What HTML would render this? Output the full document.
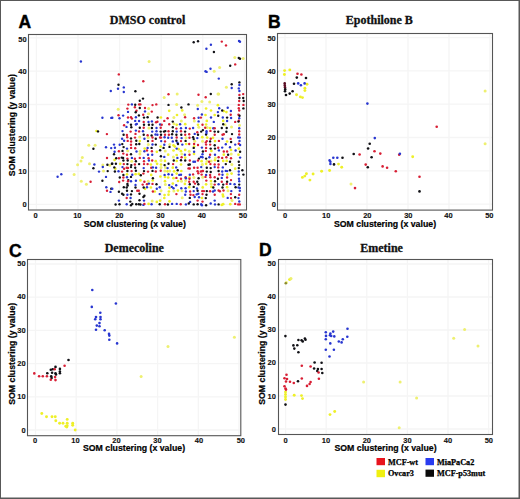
<!DOCTYPE html><html><head><meta charset="utf-8"><style>html,body{margin:0;padding:0;background:#fff;width:520px;height:499px;overflow:hidden}svg{display:block}</style></head><body><svg width="520" height="499" viewBox="0 0 520 499"><style>.t{font:bold 7.5px "Liberation Sans",sans-serif;fill:#111;stroke:#111;stroke-width:0.12px}.L{font:bold 17.5px "Liberation Sans",sans-serif;fill:#000;stroke:#000;stroke-width:0.4px}.T{font:bold 12px "Liberation Serif",serif;fill:#111;stroke:#111;stroke-width:0.3px}.X{font:bold 8.75px "Liberation Sans",sans-serif;fill:#000;stroke:#000;stroke-width:0.2px}.G{font:bold 8.2px "Liberation Serif",serif;fill:#000;stroke:#000;stroke-width:0.25px}</style><rect x="0" y="0" width="520" height="499" fill="#fff"/><line x1="36.4" y1="35.0" x2="36.4" y2="209.5" stroke="#f5f5f5" stroke-width="1.3"/><line x1="29.0" y1="204.4" x2="246.0" y2="204.4" stroke="#f5f5f5" stroke-width="1.3"/><line x1="78.0" y1="35.0" x2="78.0" y2="209.5" stroke="#f5f5f5" stroke-width="1.3"/><line x1="29.0" y1="171.1" x2="246.0" y2="171.1" stroke="#f5f5f5" stroke-width="1.3"/><line x1="119.6" y1="35.0" x2="119.6" y2="209.5" stroke="#f5f5f5" stroke-width="1.3"/><line x1="29.0" y1="137.8" x2="246.0" y2="137.8" stroke="#f5f5f5" stroke-width="1.3"/><line x1="161.2" y1="35.0" x2="161.2" y2="209.5" stroke="#f5f5f5" stroke-width="1.3"/><line x1="29.0" y1="104.5" x2="246.0" y2="104.5" stroke="#f5f5f5" stroke-width="1.3"/><line x1="202.8" y1="35.0" x2="202.8" y2="209.5" stroke="#f5f5f5" stroke-width="1.3"/><line x1="29.0" y1="71.2" x2="246.0" y2="71.2" stroke="#f5f5f5" stroke-width="1.3"/><line x1="244.4" y1="35.0" x2="244.4" y2="209.5" stroke="#f5f5f5" stroke-width="1.3"/><line x1="29.0" y1="37.9" x2="246.0" y2="37.9" stroke="#f5f5f5" stroke-width="1.3"/><line x1="285.0" y1="34.0" x2="285.0" y2="209.6" stroke="#f5f5f5" stroke-width="1.3"/><line x1="278.0" y1="204.1" x2="492.0" y2="204.1" stroke="#f5f5f5" stroke-width="1.3"/><line x1="326.0" y1="34.0" x2="326.0" y2="209.6" stroke="#f5f5f5" stroke-width="1.3"/><line x1="278.0" y1="170.8" x2="492.0" y2="170.8" stroke="#f5f5f5" stroke-width="1.3"/><line x1="367.0" y1="34.0" x2="367.0" y2="209.6" stroke="#f5f5f5" stroke-width="1.3"/><line x1="278.0" y1="137.5" x2="492.0" y2="137.5" stroke="#f5f5f5" stroke-width="1.3"/><line x1="408.0" y1="34.0" x2="408.0" y2="209.6" stroke="#f5f5f5" stroke-width="1.3"/><line x1="278.0" y1="104.2" x2="492.0" y2="104.2" stroke="#f5f5f5" stroke-width="1.3"/><line x1="449.0" y1="34.0" x2="449.0" y2="209.6" stroke="#f5f5f5" stroke-width="1.3"/><line x1="278.0" y1="70.9" x2="492.0" y2="70.9" stroke="#f5f5f5" stroke-width="1.3"/><line x1="490.0" y1="34.0" x2="490.0" y2="209.6" stroke="#f5f5f5" stroke-width="1.3"/><line x1="278.0" y1="37.6" x2="492.0" y2="37.6" stroke="#f5f5f5" stroke-width="1.3"/><line x1="35.5" y1="260.0" x2="35.5" y2="435.2" stroke="#f5f5f5" stroke-width="1.3"/><line x1="28.0" y1="430.0" x2="240.3" y2="430.0" stroke="#f5f5f5" stroke-width="1.3"/><line x1="76.2" y1="260.0" x2="76.2" y2="435.2" stroke="#f5f5f5" stroke-width="1.3"/><line x1="28.0" y1="396.8" x2="240.3" y2="396.8" stroke="#f5f5f5" stroke-width="1.3"/><line x1="116.9" y1="260.0" x2="116.9" y2="435.2" stroke="#f5f5f5" stroke-width="1.3"/><line x1="28.0" y1="363.6" x2="240.3" y2="363.6" stroke="#f5f5f5" stroke-width="1.3"/><line x1="157.6" y1="260.0" x2="157.6" y2="435.2" stroke="#f5f5f5" stroke-width="1.3"/><line x1="28.0" y1="330.4" x2="240.3" y2="330.4" stroke="#f5f5f5" stroke-width="1.3"/><line x1="198.3" y1="260.0" x2="198.3" y2="435.2" stroke="#f5f5f5" stroke-width="1.3"/><line x1="28.0" y1="297.2" x2="240.3" y2="297.2" stroke="#f5f5f5" stroke-width="1.3"/><line x1="239.0" y1="260.0" x2="239.0" y2="435.2" stroke="#f5f5f5" stroke-width="1.3"/><line x1="28.0" y1="264.0" x2="240.3" y2="264.0" stroke="#f5f5f5" stroke-width="1.3"/><line x1="285.6" y1="260.0" x2="285.6" y2="434.0" stroke="#f5f5f5" stroke-width="1.3"/><line x1="279.0" y1="429.0" x2="492.0" y2="429.0" stroke="#f5f5f5" stroke-width="1.3"/><line x1="326.2" y1="260.0" x2="326.2" y2="434.0" stroke="#f5f5f5" stroke-width="1.3"/><line x1="279.0" y1="396.0" x2="492.0" y2="396.0" stroke="#f5f5f5" stroke-width="1.3"/><line x1="366.8" y1="260.0" x2="366.8" y2="434.0" stroke="#f5f5f5" stroke-width="1.3"/><line x1="279.0" y1="363.0" x2="492.0" y2="363.0" stroke="#f5f5f5" stroke-width="1.3"/><line x1="407.4" y1="260.0" x2="407.4" y2="434.0" stroke="#f5f5f5" stroke-width="1.3"/><line x1="279.0" y1="330.0" x2="492.0" y2="330.0" stroke="#f5f5f5" stroke-width="1.3"/><line x1="448.0" y1="260.0" x2="448.0" y2="434.0" stroke="#f5f5f5" stroke-width="1.3"/><line x1="279.0" y1="297.0" x2="492.0" y2="297.0" stroke="#f5f5f5" stroke-width="1.3"/><line x1="488.6" y1="260.0" x2="488.6" y2="434.0" stroke="#f5f5f5" stroke-width="1.3"/><line x1="279.0" y1="264.0" x2="492.0" y2="264.0" stroke="#f5f5f5" stroke-width="1.3"/><g><circle cx="82.3" cy="157.5" r="1.5" fill="#eef070"/><circle cx="81.0" cy="161.0" r="1.5" fill="#eef070"/><circle cx="77.6" cy="164.8" r="1.5" fill="#eef070"/><circle cx="74.1" cy="174.5" r="1.5" fill="#eef070"/><circle cx="81.3" cy="181.2" r="1.5" fill="#eef070"/><circle cx="86.4" cy="184.3" r="1.5" fill="#eef070"/><circle cx="89.5" cy="163.8" r="1.5" fill="#eef070"/><circle cx="88.8" cy="145.3" r="1.5" fill="#eef070"/><circle cx="95.1" cy="145.3" r="1.5" fill="#eef070"/><circle cx="96.5" cy="131.0" r="1.3499999999999999" fill="#eef028"/><circle cx="102.8" cy="165.0" r="1.5" fill="#eef070"/><circle cx="109.8" cy="165.2" r="1.5" fill="#eef070"/><circle cx="103.5" cy="170.9" r="1.5" fill="#eef070"/><circle cx="149.1" cy="61.4" r="1.5" fill="#eef070"/><circle cx="164.2" cy="97.5" r="1.5" fill="#eef070"/><circle cx="177.2" cy="94.0" r="1.5" fill="#eef070"/><circle cx="226.4" cy="87.3" r="1.5" fill="#eef070"/><circle cx="218.7" cy="94.0" r="1.5" fill="#eef070"/><circle cx="219.6" cy="67.5" r="1.5" fill="#eef070"/><circle cx="214.2" cy="71.2" r="1.5" fill="#eef070"/><circle cx="234.8" cy="57.6" r="1.5" fill="#eef070"/><circle cx="243.2" cy="58.4" r="1.5" fill="#eef070"/><circle cx="218.0" cy="94.1" r="1.5" fill="#eef070"/><circle cx="118.2" cy="109.2" r="1.5" fill="#eef070"/><circle cx="176.7" cy="104.6" r="1.5" fill="#eef070"/><circle cx="148.6" cy="108.5" r="1.5" fill="#eef070"/><circle cx="177.0" cy="115.0" r="1.3499999999999999" fill="#eef028"/><circle cx="176.7" cy="124.8" r="1.3499999999999999" fill="#eef028"/><circle cx="201.9" cy="101.6" r="1.5" fill="#eef070"/><circle cx="209.7" cy="102.0" r="1.5" fill="#eef070"/><circle cx="197.6" cy="105.2" r="1.5" fill="#eef070"/><circle cx="206.1" cy="108.5" r="1.3499999999999999" fill="#eef028"/><circle cx="211.0" cy="110.5" r="1.3499999999999999" fill="#eef028"/><circle cx="184.6" cy="114.7" r="1.5" fill="#eef070"/><circle cx="205.5" cy="115.0" r="1.3499999999999999" fill="#eef028"/><circle cx="181.3" cy="120.9" r="1.5" fill="#eef070"/><circle cx="206.8" cy="120.9" r="1.3499999999999999" fill="#eef028"/><circle cx="185.2" cy="124.2" r="1.3499999999999999" fill="#eef028"/><circle cx="198.0" cy="124.8" r="1.3499999999999999" fill="#eef028"/><circle cx="206.1" cy="124.5" r="1.3499999999999999" fill="#eef028"/><circle cx="217.9" cy="105.2" r="1.3499999999999999" fill="#eef028"/><circle cx="223.8" cy="111.1" r="1.3499999999999999" fill="#eef028"/><circle cx="226.4" cy="112.1" r="1.3499999999999999" fill="#eef028"/><circle cx="214.7" cy="115.0" r="1.3499999999999999" fill="#eef028"/><circle cx="223.2" cy="120.9" r="1.3499999999999999" fill="#eef028"/><circle cx="225.1" cy="124.8" r="1.5" fill="#eef070"/><circle cx="239.5" cy="125.2" r="1.5" fill="#eef070"/><circle cx="139.8" cy="141.1" r="1.3499999999999999" fill="#eef028"/><circle cx="144.7" cy="148.6" r="1.3499999999999999" fill="#eef028"/><circle cx="148.3" cy="144.6" r="1.5" fill="#eef070"/><circle cx="173.5" cy="145.3" r="1.3499999999999999" fill="#eef028"/><circle cx="174.8" cy="146.6" r="1.3499999999999999" fill="#eef028"/><circle cx="160.7" cy="146.6" r="1.3499999999999999" fill="#eef028"/><circle cx="156.8" cy="151.8" r="1.3499999999999999" fill="#eef028"/><circle cx="173.5" cy="150.5" r="1.3499999999999999" fill="#eef028"/><circle cx="178.7" cy="149.2" r="1.3499999999999999" fill="#eef028"/><circle cx="210.1" cy="128.0" r="1.3499999999999999" fill="#eef028"/><circle cx="213.0" cy="137.8" r="1.3499999999999999" fill="#eef028"/><circle cx="186.2" cy="144.0" r="1.3499999999999999" fill="#eef028"/><circle cx="194.1" cy="146.6" r="1.3499999999999999" fill="#eef028"/><circle cx="185.2" cy="149.9" r="1.3499999999999999" fill="#eef028"/><circle cx="189.2" cy="151.2" r="1.5" fill="#eef070"/><circle cx="211.4" cy="150.9" r="1.3499999999999999" fill="#eef028"/><circle cx="181.0" cy="151.2" r="1.3499999999999999" fill="#eef028"/><circle cx="215.0" cy="141.1" r="1.3499999999999999" fill="#eef028"/><circle cx="227.1" cy="141.5" r="1.3499999999999999" fill="#eef028"/><circle cx="238.8" cy="148.6" r="1.3499999999999999" fill="#eef028"/><circle cx="231.0" cy="149.9" r="1.3499999999999999" fill="#eef028"/><circle cx="114.6" cy="159.9" r="1.3499999999999999" fill="#eef028"/><circle cx="120.2" cy="163.8" r="1.3499999999999999" fill="#eef028"/><circle cx="115.3" cy="168.7" r="1.3499999999999999" fill="#eef028"/><circle cx="127.0" cy="174.3" r="1.3499999999999999" fill="#eef028"/><circle cx="138.8" cy="173.9" r="1.3499999999999999" fill="#eef028"/><circle cx="168.2" cy="154.7" r="1.3499999999999999" fill="#eef028"/><circle cx="176.7" cy="155.0" r="1.3499999999999999" fill="#eef028"/><circle cx="155.8" cy="161.2" r="1.3499999999999999" fill="#eef028"/><circle cx="165.0" cy="160.9" r="1.3499999999999999" fill="#eef028"/><circle cx="176.7" cy="160.9" r="1.3499999999999999" fill="#eef028"/><circle cx="150.9" cy="164.5" r="1.3499999999999999" fill="#eef028"/><circle cx="157.1" cy="163.8" r="1.3499999999999999" fill="#eef028"/><circle cx="161.0" cy="164.5" r="1.3499999999999999" fill="#eef028"/><circle cx="172.8" cy="167.7" r="1.3499999999999999" fill="#eef028"/><circle cx="167.6" cy="171.3" r="1.3499999999999999" fill="#eef028"/><circle cx="174.1" cy="171.3" r="1.3499999999999999" fill="#eef028"/><circle cx="151.2" cy="174.9" r="1.3499999999999999" fill="#eef028"/><circle cx="176.7" cy="173.6" r="1.3499999999999999" fill="#eef028"/><circle cx="160.4" cy="176.5" r="1.3499999999999999" fill="#eef028"/><circle cx="165.0" cy="176.9" r="1.3499999999999999" fill="#eef028"/><circle cx="168.2" cy="177.5" r="1.3499999999999999" fill="#eef028"/><circle cx="173.5" cy="178.2" r="1.3499999999999999" fill="#eef028"/><circle cx="185.2" cy="157.6" r="1.3499999999999999" fill="#eef028"/><circle cx="201.6" cy="161.2" r="1.3499999999999999" fill="#eef028"/><circle cx="206.1" cy="163.8" r="1.3499999999999999" fill="#eef028"/><circle cx="181.0" cy="164.5" r="1.3499999999999999" fill="#eef028"/><circle cx="181.3" cy="171.0" r="1.3499999999999999" fill="#eef028"/><circle cx="189.5" cy="177.5" r="1.3499999999999999" fill="#eef028"/><circle cx="223.8" cy="154.7" r="1.3499999999999999" fill="#eef028"/><circle cx="238.5" cy="154.7" r="1.3499999999999999" fill="#eef028"/><circle cx="215.0" cy="160.2" r="1.3499999999999999" fill="#eef028"/><circle cx="223.2" cy="160.9" r="1.3499999999999999" fill="#eef028"/><circle cx="226.7" cy="160.9" r="1.3499999999999999" fill="#eef028"/><circle cx="235.2" cy="168.7" r="1.3499999999999999" fill="#eef028"/><circle cx="231.6" cy="173.6" r="1.3499999999999999" fill="#eef028"/><circle cx="145.0" cy="188.8" r="1.3499999999999999" fill="#eef028"/><circle cx="172.8" cy="183.6" r="1.3499999999999999" fill="#eef028"/><circle cx="150.9" cy="187.5" r="1.3499999999999999" fill="#eef028"/><circle cx="154.8" cy="191.5" r="1.3499999999999999" fill="#eef028"/><circle cx="168.9" cy="191.5" r="1.3499999999999999" fill="#eef028"/><circle cx="164.6" cy="195.1" r="1.3499999999999999" fill="#eef028"/><circle cx="168.5" cy="194.7" r="1.3499999999999999" fill="#eef028"/><circle cx="164.3" cy="198.0" r="1.3499999999999999" fill="#eef028"/><circle cx="160.1" cy="200.6" r="1.3499999999999999" fill="#eef028"/><circle cx="156.8" cy="201.9" r="1.3499999999999999" fill="#eef028"/><circle cx="169.5" cy="201.3" r="1.3499999999999999" fill="#eef028"/><circle cx="148.6" cy="203.9" r="1.3499999999999999" fill="#eef028"/><circle cx="184.9" cy="183.9" r="1.3499999999999999" fill="#eef028"/><circle cx="206.1" cy="184.3" r="1.3499999999999999" fill="#eef028"/><circle cx="189.2" cy="187.2" r="1.3499999999999999" fill="#eef028"/><circle cx="211.4" cy="186.9" r="1.3499999999999999" fill="#eef028"/><circle cx="201.9" cy="198.0" r="1.3499999999999999" fill="#eef028"/><circle cx="227.1" cy="187.2" r="1.3499999999999999" fill="#eef028"/><circle cx="222.8" cy="194.7" r="1.3499999999999999" fill="#eef028"/><circle cx="223.2" cy="196.4" r="1.3499999999999999" fill="#eef028"/><circle cx="221.8" cy="204.9" r="1.3499999999999999" fill="#eef028"/><circle cx="223.2" cy="204.2" r="1.3499999999999999" fill="#eef028"/><circle cx="230.3" cy="204.2" r="1.3499999999999999" fill="#eef028"/><circle cx="127.7" cy="150.8" r="1.5" fill="#eef070"/><circle cx="131.7" cy="161.3" r="1.5" fill="#eef070"/><circle cx="135.6" cy="174.2" r="1.3499999999999999" fill="#eef028"/><circle cx="140.4" cy="180.4" r="1.3499999999999999" fill="#eef028"/><circle cx="139.9" cy="154.0" r="1.5" fill="#eef070"/><circle cx="140.1" cy="151.2" r="1.5" fill="#eef070"/><circle cx="139.7" cy="137.0" r="1.5" fill="#eef070"/><circle cx="148.2" cy="181.2" r="1.5" fill="#eef070"/><circle cx="148.2" cy="137.5" r="1.5" fill="#eef070"/><circle cx="148.9" cy="128.0" r="1.5" fill="#eef070"/><circle cx="148.5" cy="113.7" r="1.5" fill="#eef070"/><circle cx="152.2" cy="200.9" r="1.5" fill="#eef070"/><circle cx="152.7" cy="180.5" r="1.3499999999999999" fill="#eef028"/><circle cx="161.0" cy="190.8" r="1.5" fill="#eef070"/><circle cx="161.0" cy="167.4" r="1.5" fill="#eef070"/><circle cx="161.0" cy="160.4" r="1.5" fill="#eef070"/><circle cx="160.9" cy="117.5" r="1.3499999999999999" fill="#eef028"/><circle cx="165.4" cy="184.4" r="1.5" fill="#eef070"/><circle cx="165.0" cy="181.2" r="1.3499999999999999" fill="#eef028"/><circle cx="164.9" cy="171.0" r="1.5" fill="#eef070"/><circle cx="165.5" cy="167.4" r="1.5" fill="#eef070"/><circle cx="165.2" cy="151.1" r="1.5" fill="#eef070"/><circle cx="169.5" cy="187.8" r="1.3499999999999999" fill="#eef028"/><circle cx="169.7" cy="171.1" r="1.5" fill="#eef070"/><circle cx="169.7" cy="144.4" r="1.5" fill="#eef070"/><circle cx="169.2" cy="110.8" r="1.3499999999999999" fill="#eef028"/><circle cx="173.9" cy="190.9" r="1.5" fill="#eef070"/><circle cx="173.4" cy="157.1" r="1.5" fill="#eef070"/><circle cx="173.9" cy="123.8" r="1.5" fill="#eef070"/><circle cx="173.9" cy="117.4" r="1.5" fill="#eef070"/><circle cx="177.9" cy="190.6" r="1.3499999999999999" fill="#eef028"/><circle cx="178.0" cy="181.0" r="1.3499999999999999" fill="#eef028"/><circle cx="182.2" cy="197.7" r="1.5" fill="#eef070"/><circle cx="182.0" cy="190.8" r="1.5" fill="#eef070"/><circle cx="181.5" cy="181.3" r="1.5" fill="#eef070"/><circle cx="181.8" cy="153.9" r="1.5" fill="#eef070"/><circle cx="182.2" cy="110.4" r="1.3499999999999999" fill="#eef028"/><circle cx="185.6" cy="180.6" r="1.5" fill="#eef070"/><circle cx="186.0" cy="137.8" r="1.5" fill="#eef070"/><circle cx="193.9" cy="177.6" r="1.5" fill="#eef070"/><circle cx="194.0" cy="153.9" r="1.3499999999999999" fill="#eef028"/><circle cx="194.7" cy="141.2" r="1.5" fill="#eef070"/><circle cx="194.3" cy="120.9" r="1.5" fill="#eef070"/><circle cx="198.8" cy="127.3" r="1.5" fill="#eef070"/><circle cx="202.7" cy="187.4" r="1.3499999999999999" fill="#eef028"/><circle cx="202.7" cy="177.3" r="1.5" fill="#eef070"/><circle cx="202.3" cy="164.4" r="1.5" fill="#eef070"/><circle cx="202.5" cy="141.2" r="1.5" fill="#eef070"/><circle cx="202.3" cy="137.2" r="1.3499999999999999" fill="#eef028"/><circle cx="207.0" cy="161.2" r="1.5" fill="#eef070"/><circle cx="207.2" cy="137.6" r="1.3499999999999999" fill="#eef028"/><circle cx="207.2" cy="127.4" r="1.5" fill="#eef070"/><circle cx="211.2" cy="183.9" r="1.5" fill="#eef070"/><circle cx="211.0" cy="181.1" r="1.3499999999999999" fill="#eef028"/><circle cx="211.1" cy="161.0" r="1.5" fill="#eef070"/><circle cx="215.3" cy="157.9" r="1.5" fill="#eef070"/><circle cx="228.0" cy="190.7" r="1.5" fill="#eef070"/><circle cx="227.3" cy="174.4" r="1.3499999999999999" fill="#eef028"/><circle cx="232.0" cy="200.4" r="1.5" fill="#eef070"/><circle cx="231.8" cy="164.4" r="1.5" fill="#eef070"/><circle cx="231.2" cy="154.1" r="1.5" fill="#eef070"/><circle cx="231.5" cy="127.1" r="1.5" fill="#eef070"/><circle cx="80.9" cy="61.5" r="1.2" fill="#2836d0"/><circle cx="57.6" cy="176.7" r="1.2" fill="#2836d0"/><circle cx="61.3" cy="174.2" r="1.2" fill="#2836d0"/><circle cx="93.4" cy="148.7" r="1.2" fill="#111116"/><circle cx="102.4" cy="117.8" r="1.2" fill="#2836d0"/><circle cx="111.3" cy="117.9" r="1.2" fill="#2836d0"/><circle cx="98.0" cy="131.4" r="1.2" fill="#111116"/><circle cx="106.9" cy="134.1" r="1.2" fill="#d81e34"/><circle cx="106.0" cy="147.3" r="1.2" fill="#2836d0"/><circle cx="111.2" cy="148.1" r="1.2" fill="#2836d0"/><circle cx="107.0" cy="158.0" r="1.2" fill="#d81e34"/><circle cx="94.4" cy="164.5" r="1.2" fill="#2836d0"/><circle cx="93.4" cy="168.3" r="1.2" fill="#111116"/><circle cx="102.8" cy="167.0" r="1.2" fill="#2836d0"/><circle cx="107.4" cy="164.8" r="1.2" fill="#111116"/><circle cx="111.9" cy="163.8" r="1.2" fill="#111116"/><circle cx="99.0" cy="171.6" r="1.2" fill="#2836d0"/><circle cx="107.7" cy="171.1" r="1.2" fill="#111116"/><circle cx="106.0" cy="176.9" r="1.2" fill="#2836d0"/><circle cx="90.6" cy="181.8" r="1.2" fill="#d81e34"/><circle cx="102.4" cy="180.7" r="1.2" fill="#111116"/><circle cx="106.3" cy="187.3" r="1.2" fill="#2836d0"/><circle cx="111.2" cy="188.8" r="1.2" fill="#111116"/><circle cx="107.0" cy="190.8" r="1.2" fill="#d81e34"/><circle cx="110.5" cy="191.9" r="1.2" fill="#2836d0"/><circle cx="118.8" cy="74.4" r="1.2" fill="#d81e34"/><circle cx="143.3" cy="81.3" r="1.2" fill="#d81e34"/><circle cx="118.5" cy="84.8" r="1.2" fill="#111116"/><circle cx="118.0" cy="88.8" r="1.2" fill="#2836d0"/><circle cx="123.8" cy="87.4" r="1.2" fill="#2836d0"/><circle cx="123.8" cy="92.0" r="1.2" fill="#2836d0"/><circle cx="110.8" cy="91.0" r="1.2" fill="#2836d0"/><circle cx="135.4" cy="91.3" r="1.2" fill="#111116"/><circle cx="143.0" cy="98.6" r="1.2" fill="#111116"/><circle cx="168.5" cy="94.3" r="1.2" fill="#d81e34"/><circle cx="193.7" cy="42.2" r="1.2" fill="#111116"/><circle cx="198.0" cy="41.2" r="1.2" fill="#111116"/><circle cx="221.8" cy="41.6" r="1.2" fill="#d81e34"/><circle cx="239.0" cy="41.0" r="1.2" fill="#2836d0"/><circle cx="240.0" cy="41.8" r="1.2" fill="#2836d0"/><circle cx="210.9" cy="44.8" r="1.2" fill="#2836d0"/><circle cx="226.0" cy="45.4" r="1.2" fill="#d81e34"/><circle cx="206.4" cy="48.7" r="1.2" fill="#2836d0"/><circle cx="213.9" cy="52.0" r="1.2" fill="#111116"/><circle cx="238.8" cy="58.0" r="1.2" fill="#111116"/><circle cx="240.0" cy="58.8" r="1.2" fill="#111116"/><circle cx="230.2" cy="65.7" r="1.2" fill="#111116"/><circle cx="235.2" cy="64.4" r="1.2" fill="#d81e34"/><circle cx="210.5" cy="68.8" r="1.2" fill="#2836d0"/><circle cx="205.5" cy="71.2" r="1.2" fill="#2836d0"/><circle cx="206.6" cy="71.9" r="1.2" fill="#2836d0"/><circle cx="218.8" cy="78.6" r="1.2" fill="#2836d0"/><circle cx="231.7" cy="84.2" r="1.2" fill="#111116"/><circle cx="231.7" cy="88.0" r="1.2" fill="#2836d0"/><circle cx="210.8" cy="94.0" r="1.2" fill="#111116"/><circle cx="198.5" cy="94.7" r="1.2" fill="#d81e34"/><circle cx="205.7" cy="97.3" r="1.2" fill="#d81e34"/><circle cx="239.4" cy="82.4" r="1.2" fill="#111116"/><circle cx="239.4" cy="85.0" r="1.2" fill="#2836d0"/><circle cx="238.8" cy="88.4" r="1.2" fill="#2836d0"/><circle cx="239.4" cy="91.0" r="1.2" fill="#2836d0"/><circle cx="239.4" cy="94.9" r="1.2" fill="#d81e34"/><circle cx="243.2" cy="94.1" r="1.2" fill="#d81e34"/><circle cx="239.4" cy="98.0" r="1.2" fill="#111116"/><circle cx="243.2" cy="98.0" r="1.2" fill="#111116"/><circle cx="139.8" cy="100.7" r="1.2" fill="#111116"/><circle cx="128.3" cy="104.6" r="1.2" fill="#d81e34"/><circle cx="131.9" cy="104.4" r="1.2" fill="#2836d0"/><circle cx="135.2" cy="104.7" r="1.2" fill="#111116"/><circle cx="139.1" cy="104.4" r="1.2" fill="#d81e34"/><circle cx="140.4" cy="104.4" r="1.2" fill="#d81e34"/><circle cx="134.9" cy="107.3" r="1.2" fill="#d81e34"/><circle cx="139.8" cy="108.0" r="1.2" fill="#111116"/><circle cx="145.0" cy="108.0" r="1.2" fill="#d81e34"/><circle cx="127.4" cy="108.6" r="1.2" fill="#d81e34"/><circle cx="136.5" cy="110.8" r="1.2" fill="#d81e34"/><circle cx="135.7" cy="112.3" r="1.2" fill="#111116"/><circle cx="128.0" cy="111.9" r="1.2" fill="#2836d0"/><circle cx="145.0" cy="111.4" r="1.2" fill="#2836d0"/><circle cx="118.5" cy="115.2" r="1.2" fill="#d81e34"/><circle cx="123.1" cy="115.6" r="1.2" fill="#2836d0"/><circle cx="138.9" cy="115.4" r="1.2" fill="#111116"/><circle cx="143.2" cy="114.7" r="1.2" fill="#d81e34"/><circle cx="112.3" cy="117.8" r="1.2" fill="#2836d0"/><circle cx="119.5" cy="118.3" r="1.2" fill="#2836d0"/><circle cx="128.0" cy="117.5" r="1.2" fill="#d81e34"/><circle cx="131.0" cy="117.3" r="1.2" fill="#d81e34"/><circle cx="131.9" cy="118.6" r="1.2" fill="#d81e34"/><circle cx="135.9" cy="117.3" r="1.2" fill="#2836d0"/><circle cx="144.0" cy="117.6" r="1.2" fill="#111116"/><circle cx="127.7" cy="122.2" r="1.2" fill="#2836d0"/><circle cx="135.2" cy="120.9" r="1.2" fill="#2836d0"/><circle cx="139.1" cy="121.0" r="1.2" fill="#2836d0"/><circle cx="135.9" cy="124.5" r="1.2" fill="#2836d0"/><circle cx="136.8" cy="123.9" r="1.2" fill="#2836d0"/><circle cx="143.7" cy="121.9" r="1.2" fill="#d81e34"/><circle cx="144.0" cy="124.7" r="1.2" fill="#111116"/><circle cx="124.1" cy="125.2" r="1.2" fill="#d81e34"/><circle cx="131.0" cy="124.8" r="1.2" fill="#111116"/><circle cx="126.5" cy="126.9" r="1.2" fill="#2836d0"/><circle cx="152.5" cy="105.1" r="1.2" fill="#d81e34"/><circle cx="156.3" cy="104.4" r="1.2" fill="#d81e34"/><circle cx="168.5" cy="104.9" r="1.2" fill="#111116"/><circle cx="151.8" cy="111.6" r="1.2" fill="#d81e34"/><circle cx="147.6" cy="117.3" r="1.2" fill="#111116"/><circle cx="157.6" cy="117.5" r="1.2" fill="#111116"/><circle cx="167.6" cy="118.2" r="1.2" fill="#d81e34"/><circle cx="164.3" cy="120.9" r="1.2" fill="#d81e34"/><circle cx="148.5" cy="121.9" r="1.2" fill="#2836d0"/><circle cx="151.9" cy="121.4" r="1.2" fill="#2836d0"/><circle cx="156.1" cy="122.2" r="1.2" fill="#d81e34"/><circle cx="157.4" cy="121.7" r="1.2" fill="#d81e34"/><circle cx="172.8" cy="121.6" r="1.2" fill="#111116"/><circle cx="148.9" cy="124.8" r="1.2" fill="#111116"/><circle cx="152.5" cy="124.8" r="1.2" fill="#111116"/><circle cx="160.1" cy="124.5" r="1.2" fill="#2836d0"/><circle cx="161.7" cy="124.8" r="1.2" fill="#d81e34"/><circle cx="169.2" cy="124.2" r="1.2" fill="#d81e34"/><circle cx="180.1" cy="124.2" r="1.2" fill="#2836d0"/><circle cx="188.5" cy="104.4" r="1.2" fill="#111116"/><circle cx="181.4" cy="107.5" r="1.2" fill="#111116"/><circle cx="197.8" cy="109.0" r="1.2" fill="#2836d0"/><circle cx="201.9" cy="114.5" r="1.2" fill="#2836d0"/><circle cx="185.1" cy="117.3" r="1.2" fill="#d81e34"/><circle cx="194.1" cy="118.2" r="1.2" fill="#d81e34"/><circle cx="198.6" cy="117.8" r="1.2" fill="#2836d0"/><circle cx="200.9" cy="117.6" r="1.2" fill="#d81e34"/><circle cx="211.0" cy="117.5" r="1.2" fill="#2836d0"/><circle cx="198.6" cy="121.4" r="1.2" fill="#2836d0"/><circle cx="213.8" cy="121.9" r="1.2" fill="#2836d0"/><circle cx="202.5" cy="124.7" r="1.2" fill="#d81e34"/><circle cx="239.2" cy="101.0" r="1.2" fill="#d81e34"/><circle cx="243.7" cy="101.0" r="1.2" fill="#111116"/><circle cx="238.8" cy="104.9" r="1.2" fill="#d81e34"/><circle cx="243.4" cy="104.9" r="1.2" fill="#d81e34"/><circle cx="238.8" cy="108.2" r="1.2" fill="#d81e34"/><circle cx="243.4" cy="108.4" r="1.2" fill="#111116"/><circle cx="239.2" cy="110.5" r="1.2" fill="#d81e34"/><circle cx="219.2" cy="108.2" r="1.2" fill="#2836d0"/><circle cx="227.7" cy="107.8" r="1.2" fill="#2836d0"/><circle cx="222.2" cy="110.5" r="1.2" fill="#111116"/><circle cx="217.9" cy="112.1" r="1.2" fill="#2836d0"/><circle cx="230.9" cy="111.0" r="1.2" fill="#2836d0"/><circle cx="218.2" cy="115.7" r="1.2" fill="#111116"/><circle cx="230.7" cy="114.7" r="1.2" fill="#d81e34"/><circle cx="238.5" cy="114.7" r="1.2" fill="#d81e34"/><circle cx="239.5" cy="115.7" r="1.2" fill="#111116"/><circle cx="222.8" cy="117.5" r="1.2" fill="#2836d0"/><circle cx="227.1" cy="117.6" r="1.2" fill="#111116"/><circle cx="231.1" cy="118.0" r="1.2" fill="#2836d0"/><circle cx="239.2" cy="118.3" r="1.2" fill="#2836d0"/><circle cx="227.1" cy="121.0" r="1.2" fill="#2836d0"/><circle cx="238.8" cy="120.8" r="1.2" fill="#d81e34"/><circle cx="238.5" cy="121.6" r="1.2" fill="#111116"/><circle cx="235.2" cy="121.9" r="1.2" fill="#d81e34"/><circle cx="223.2" cy="124.2" r="1.2" fill="#111116"/><circle cx="131.3" cy="127.3" r="1.2" fill="#111116"/><circle cx="139.8" cy="127.7" r="1.2" fill="#111116"/><circle cx="143.7" cy="127.7" r="1.2" fill="#d81e34"/><circle cx="122.5" cy="131.1" r="1.2" fill="#2836d0"/><circle cx="130.6" cy="131.6" r="1.2" fill="#d81e34"/><circle cx="135.9" cy="130.6" r="1.2" fill="#2836d0"/><circle cx="139.1" cy="131.4" r="1.2" fill="#d81e34"/><circle cx="143.0" cy="131.2" r="1.2" fill="#2836d0"/><circle cx="123.6" cy="134.7" r="1.2" fill="#111116"/><circle cx="126.9" cy="135.0" r="1.2" fill="#d81e34"/><circle cx="135.5" cy="133.9" r="1.2" fill="#d81e34"/><circle cx="143.7" cy="134.7" r="1.2" fill="#111116"/><circle cx="127.2" cy="137.3" r="1.2" fill="#d81e34"/><circle cx="131.0" cy="138.4" r="1.2" fill="#111116"/><circle cx="135.0" cy="137.6" r="1.2" fill="#d81e34"/><circle cx="122.1" cy="138.8" r="1.2" fill="#2836d0"/><circle cx="124.1" cy="140.7" r="1.2" fill="#2836d0"/><circle cx="127.7" cy="140.9" r="1.2" fill="#d81e34"/><circle cx="131.1" cy="141.5" r="1.2" fill="#d81e34"/><circle cx="136.3" cy="140.7" r="1.2" fill="#111116"/><circle cx="144.4" cy="138.8" r="1.2" fill="#2836d0"/><circle cx="114.0" cy="144.6" r="1.2" fill="#2836d0"/><circle cx="119.7" cy="144.8" r="1.2" fill="#2836d0"/><circle cx="122.3" cy="144.1" r="1.2" fill="#111116"/><circle cx="131.0" cy="144.8" r="1.2" fill="#d81e34"/><circle cx="136.2" cy="144.3" r="1.2" fill="#111116"/><circle cx="139.3" cy="144.0" r="1.2" fill="#111116"/><circle cx="114.9" cy="147.8" r="1.2" fill="#2836d0"/><circle cx="123.6" cy="147.1" r="1.2" fill="#111116"/><circle cx="127.0" cy="148.6" r="1.2" fill="#2836d0"/><circle cx="131.1" cy="147.9" r="1.2" fill="#d81e34"/><circle cx="135.2" cy="148.2" r="1.2" fill="#d81e34"/><circle cx="114.6" cy="151.8" r="1.2" fill="#2836d0"/><circle cx="118.9" cy="151.2" r="1.2" fill="#d81e34"/><circle cx="122.5" cy="150.9" r="1.2" fill="#111116"/><circle cx="123.3" cy="153.6" r="1.2" fill="#d81e34"/><circle cx="136.5" cy="151.5" r="1.2" fill="#2836d0"/><circle cx="144.4" cy="151.2" r="1.2" fill="#2836d0"/><circle cx="151.9" cy="128.0" r="1.2" fill="#111116"/><circle cx="156.5" cy="128.0" r="1.2" fill="#2836d0"/><circle cx="160.7" cy="127.7" r="1.2" fill="#d81e34"/><circle cx="172.8" cy="127.3" r="1.2" fill="#111116"/><circle cx="176.4" cy="128.6" r="1.2" fill="#d81e34"/><circle cx="152.2" cy="131.6" r="1.2" fill="#2836d0"/><circle cx="156.5" cy="131.2" r="1.2" fill="#2836d0"/><circle cx="160.7" cy="131.6" r="1.2" fill="#111116"/><circle cx="164.0" cy="131.6" r="1.2" fill="#111116"/><circle cx="165.3" cy="131.1" r="1.2" fill="#111116"/><circle cx="168.5" cy="131.2" r="1.2" fill="#d81e34"/><circle cx="172.8" cy="131.2" r="1.2" fill="#111116"/><circle cx="176.7" cy="131.6" r="1.2" fill="#2836d0"/><circle cx="147.6" cy="135.2" r="1.2" fill="#d81e34"/><circle cx="151.6" cy="135.5" r="1.2" fill="#111116"/><circle cx="155.5" cy="134.5" r="1.2" fill="#2836d0"/><circle cx="157.4" cy="134.7" r="1.2" fill="#2836d0"/><circle cx="161.0" cy="134.8" r="1.2" fill="#111116"/><circle cx="165.0" cy="134.8" r="1.2" fill="#d81e34"/><circle cx="168.9" cy="134.8" r="1.2" fill="#d81e34"/><circle cx="172.1" cy="134.2" r="1.2" fill="#111116"/><circle cx="176.4" cy="134.7" r="1.2" fill="#111116"/><circle cx="152.5" cy="137.5" r="1.2" fill="#d81e34"/><circle cx="160.1" cy="137.5" r="1.2" fill="#d81e34"/><circle cx="161.0" cy="137.6" r="1.2" fill="#d81e34"/><circle cx="164.6" cy="137.3" r="1.2" fill="#2836d0"/><circle cx="168.2" cy="137.8" r="1.2" fill="#2836d0"/><circle cx="171.8" cy="137.8" r="1.2" fill="#2836d0"/><circle cx="176.7" cy="137.5" r="1.2" fill="#d81e34"/><circle cx="148.0" cy="141.1" r="1.2" fill="#111116"/><circle cx="155.8" cy="138.8" r="1.2" fill="#111116"/><circle cx="152.5" cy="140.9" r="1.2" fill="#d81e34"/><circle cx="161.2" cy="141.1" r="1.2" fill="#2836d0"/><circle cx="165.0" cy="141.4" r="1.2" fill="#d81e34"/><circle cx="172.8" cy="141.4" r="1.2" fill="#2836d0"/><circle cx="176.4" cy="140.7" r="1.2" fill="#111116"/><circle cx="177.4" cy="142.7" r="1.2" fill="#2836d0"/><circle cx="152.5" cy="144.5" r="1.2" fill="#2836d0"/><circle cx="155.8" cy="144.6" r="1.2" fill="#111116"/><circle cx="164.3" cy="144.8" r="1.2" fill="#2836d0"/><circle cx="178.0" cy="144.0" r="1.2" fill="#111116"/><circle cx="147.6" cy="147.9" r="1.2" fill="#2836d0"/><circle cx="151.6" cy="147.9" r="1.2" fill="#111116"/><circle cx="163.6" cy="147.9" r="1.2" fill="#111116"/><circle cx="169.5" cy="146.9" r="1.2" fill="#111116"/><circle cx="176.7" cy="148.6" r="1.2" fill="#2836d0"/><circle cx="147.0" cy="150.5" r="1.2" fill="#d81e34"/><circle cx="151.9" cy="151.2" r="1.2" fill="#d81e34"/><circle cx="160.1" cy="150.2" r="1.2" fill="#111116"/><circle cx="181.0" cy="128.3" r="1.2" fill="#2836d0"/><circle cx="185.9" cy="128.0" r="1.2" fill="#2836d0"/><circle cx="189.8" cy="128.6" r="1.2" fill="#d81e34"/><circle cx="193.1" cy="128.0" r="1.2" fill="#2836d0"/><circle cx="205.2" cy="127.7" r="1.2" fill="#d81e34"/><circle cx="213.3" cy="128.3" r="1.2" fill="#2836d0"/><circle cx="181.0" cy="131.2" r="1.2" fill="#d81e34"/><circle cx="185.1" cy="131.6" r="1.2" fill="#111116"/><circle cx="201.2" cy="131.6" r="1.2" fill="#111116"/><circle cx="202.9" cy="130.1" r="1.2" fill="#111116"/><circle cx="206.5" cy="131.2" r="1.2" fill="#2836d0"/><circle cx="210.4" cy="130.9" r="1.2" fill="#d81e34"/><circle cx="181.3" cy="134.8" r="1.2" fill="#111116"/><circle cx="185.2" cy="134.8" r="1.2" fill="#d81e34"/><circle cx="189.2" cy="134.2" r="1.2" fill="#d81e34"/><circle cx="194.7" cy="133.9" r="1.2" fill="#2836d0"/><circle cx="197.3" cy="132.2" r="1.2" fill="#d81e34"/><circle cx="198.0" cy="134.7" r="1.2" fill="#111116"/><circle cx="206.1" cy="134.5" r="1.2" fill="#111116"/><circle cx="206.5" cy="132.9" r="1.2" fill="#2836d0"/><circle cx="181.6" cy="138.1" r="1.2" fill="#2836d0"/><circle cx="189.5" cy="137.8" r="1.2" fill="#d81e34"/><circle cx="193.1" cy="137.3" r="1.2" fill="#111116"/><circle cx="193.7" cy="139.1" r="1.2" fill="#111116"/><circle cx="197.3" cy="138.1" r="1.2" fill="#2836d0"/><circle cx="210.7" cy="138.8" r="1.2" fill="#d81e34"/><circle cx="181.0" cy="141.1" r="1.2" fill="#d81e34"/><circle cx="185.6" cy="140.9" r="1.2" fill="#111116"/><circle cx="206.8" cy="141.1" r="1.2" fill="#d81e34"/><circle cx="205.8" cy="142.4" r="1.2" fill="#d81e34"/><circle cx="210.1" cy="141.4" r="1.2" fill="#111116"/><circle cx="182.3" cy="144.6" r="1.2" fill="#2836d0"/><circle cx="189.2" cy="144.0" r="1.2" fill="#d81e34"/><circle cx="194.1" cy="143.9" r="1.2" fill="#d81e34"/><circle cx="198.0" cy="145.0" r="1.2" fill="#d81e34"/><circle cx="206.1" cy="144.6" r="1.2" fill="#d81e34"/><circle cx="210.2" cy="144.6" r="1.2" fill="#d81e34"/><circle cx="193.7" cy="147.9" r="1.2" fill="#111116"/><circle cx="201.9" cy="147.6" r="1.2" fill="#2836d0"/><circle cx="206.1" cy="147.9" r="1.2" fill="#d81e34"/><circle cx="210.7" cy="148.6" r="1.2" fill="#111116"/><circle cx="194.1" cy="151.8" r="1.2" fill="#2836d0"/><circle cx="202.9" cy="151.5" r="1.2" fill="#111116"/><circle cx="205.8" cy="150.9" r="1.2" fill="#d81e34"/><circle cx="214.7" cy="128.3" r="1.2" fill="#d81e34"/><circle cx="221.8" cy="128.0" r="1.2" fill="#111116"/><circle cx="226.7" cy="128.0" r="1.2" fill="#111116"/><circle cx="239.2" cy="128.3" r="1.2" fill="#2836d0"/><circle cx="214.7" cy="131.6" r="1.2" fill="#111116"/><circle cx="218.2" cy="131.7" r="1.2" fill="#111116"/><circle cx="226.4" cy="131.7" r="1.2" fill="#111116"/><circle cx="239.2" cy="131.2" r="1.2" fill="#d81e34"/><circle cx="214.7" cy="134.8" r="1.2" fill="#d81e34"/><circle cx="222.5" cy="134.8" r="1.2" fill="#d81e34"/><circle cx="223.8" cy="134.3" r="1.2" fill="#d81e34"/><circle cx="232.0" cy="134.1" r="1.2" fill="#111116"/><circle cx="239.2" cy="134.5" r="1.2" fill="#d81e34"/><circle cx="222.5" cy="138.8" r="1.2" fill="#2836d0"/><circle cx="230.7" cy="138.9" r="1.2" fill="#d81e34"/><circle cx="238.2" cy="137.5" r="1.2" fill="#2836d0"/><circle cx="239.8" cy="137.6" r="1.2" fill="#2836d0"/><circle cx="218.9" cy="140.9" r="1.2" fill="#d81e34"/><circle cx="231.1" cy="142.0" r="1.2" fill="#111116"/><circle cx="239.5" cy="140.9" r="1.2" fill="#2836d0"/><circle cx="214.7" cy="145.3" r="1.2" fill="#111116"/><circle cx="225.8" cy="144.3" r="1.2" fill="#2836d0"/><circle cx="235.2" cy="144.6" r="1.2" fill="#2836d0"/><circle cx="238.8" cy="143.7" r="1.2" fill="#d81e34"/><circle cx="240.1" cy="145.0" r="1.2" fill="#2836d0"/><circle cx="218.2" cy="147.8" r="1.2" fill="#d81e34"/><circle cx="222.2" cy="147.6" r="1.2" fill="#2836d0"/><circle cx="230.0" cy="147.3" r="1.2" fill="#2836d0"/><circle cx="215.0" cy="148.6" r="1.2" fill="#111116"/><circle cx="218.9" cy="150.4" r="1.2" fill="#2836d0"/><circle cx="223.8" cy="151.5" r="1.2" fill="#d81e34"/><circle cx="227.1" cy="151.5" r="1.2" fill="#d81e34"/><circle cx="235.6" cy="150.5" r="1.2" fill="#2836d0"/><circle cx="240.1" cy="151.7" r="1.2" fill="#111116"/><circle cx="114.0" cy="154.3" r="1.2" fill="#111116"/><circle cx="127.0" cy="154.7" r="1.2" fill="#d81e34"/><circle cx="131.0" cy="154.3" r="1.2" fill="#111116"/><circle cx="116.2" cy="158.2" r="1.2" fill="#111116"/><circle cx="118.9" cy="158.2" r="1.2" fill="#d81e34"/><circle cx="121.8" cy="157.6" r="1.2" fill="#111116"/><circle cx="123.1" cy="157.9" r="1.2" fill="#111116"/><circle cx="127.4" cy="158.6" r="1.2" fill="#d81e34"/><circle cx="131.9" cy="157.9" r="1.2" fill="#2836d0"/><circle cx="134.9" cy="158.7" r="1.2" fill="#d81e34"/><circle cx="139.8" cy="157.9" r="1.2" fill="#d81e34"/><circle cx="143.7" cy="157.9" r="1.2" fill="#2836d0"/><circle cx="123.4" cy="160.5" r="1.2" fill="#111116"/><circle cx="127.7" cy="160.5" r="1.2" fill="#111116"/><circle cx="135.9" cy="161.2" r="1.2" fill="#111116"/><circle cx="144.0" cy="161.2" r="1.2" fill="#d81e34"/><circle cx="112.3" cy="163.8" r="1.2" fill="#111116"/><circle cx="115.9" cy="163.8" r="1.2" fill="#111116"/><circle cx="123.8" cy="164.1" r="1.2" fill="#d81e34"/><circle cx="127.4" cy="164.1" r="1.2" fill="#111116"/><circle cx="131.3" cy="165.1" r="1.2" fill="#111116"/><circle cx="134.9" cy="164.5" r="1.2" fill="#d81e34"/><circle cx="139.1" cy="164.1" r="1.2" fill="#111116"/><circle cx="144.0" cy="164.1" r="1.2" fill="#d81e34"/><circle cx="114.3" cy="167.4" r="1.2" fill="#111116"/><circle cx="122.5" cy="167.1" r="1.2" fill="#2836d0"/><circle cx="124.1" cy="168.7" r="1.2" fill="#d81e34"/><circle cx="126.7" cy="167.7" r="1.2" fill="#d81e34"/><circle cx="128.0" cy="167.9" r="1.2" fill="#d81e34"/><circle cx="131.0" cy="167.1" r="1.2" fill="#111116"/><circle cx="135.2" cy="167.7" r="1.2" fill="#111116"/><circle cx="143.7" cy="168.1" r="1.2" fill="#2836d0"/><circle cx="114.9" cy="171.5" r="1.2" fill="#111116"/><circle cx="118.5" cy="171.3" r="1.2" fill="#2836d0"/><circle cx="122.1" cy="171.6" r="1.2" fill="#d81e34"/><circle cx="127.4" cy="171.0" r="1.2" fill="#111116"/><circle cx="131.6" cy="171.1" r="1.2" fill="#d81e34"/><circle cx="135.9" cy="170.7" r="1.2" fill="#111116"/><circle cx="144.0" cy="171.1" r="1.2" fill="#111116"/><circle cx="123.4" cy="174.9" r="1.2" fill="#111116"/><circle cx="132.3" cy="174.8" r="1.2" fill="#2836d0"/><circle cx="140.8" cy="175.2" r="1.2" fill="#111116"/><circle cx="143.4" cy="173.6" r="1.2" fill="#d81e34"/><circle cx="119.8" cy="177.5" r="1.2" fill="#111116"/><circle cx="123.4" cy="177.5" r="1.2" fill="#d81e34"/><circle cx="127.0" cy="177.2" r="1.2" fill="#2836d0"/><circle cx="131.0" cy="176.9" r="1.2" fill="#111116"/><circle cx="128.3" cy="180.1" r="1.2" fill="#111116"/><circle cx="135.9" cy="180.7" r="1.2" fill="#2836d0"/><circle cx="123.1" cy="180.6" r="1.2" fill="#d81e34"/><circle cx="148.0" cy="154.7" r="1.2" fill="#2836d0"/><circle cx="152.2" cy="154.7" r="1.2" fill="#2836d0"/><circle cx="148.6" cy="158.2" r="1.2" fill="#d81e34"/><circle cx="160.9" cy="156.3" r="1.2" fill="#111116"/><circle cx="164.3" cy="156.9" r="1.2" fill="#2836d0"/><circle cx="177.4" cy="157.9" r="1.2" fill="#2836d0"/><circle cx="148.9" cy="160.5" r="1.2" fill="#2836d0"/><circle cx="152.2" cy="160.5" r="1.2" fill="#d81e34"/><circle cx="173.8" cy="160.5" r="1.2" fill="#111116"/><circle cx="147.6" cy="164.1" r="1.2" fill="#d81e34"/><circle cx="164.6" cy="165.1" r="1.2" fill="#111116"/><circle cx="168.5" cy="163.8" r="1.2" fill="#111116"/><circle cx="173.1" cy="164.1" r="1.2" fill="#d81e34"/><circle cx="151.2" cy="167.7" r="1.2" fill="#d81e34"/><circle cx="152.9" cy="167.4" r="1.2" fill="#2836d0"/><circle cx="156.1" cy="167.7" r="1.2" fill="#2836d0"/><circle cx="167.6" cy="168.1" r="1.2" fill="#2836d0"/><circle cx="176.2" cy="167.4" r="1.2" fill="#2836d0"/><circle cx="148.0" cy="171.6" r="1.2" fill="#d81e34"/><circle cx="152.5" cy="170.9" r="1.2" fill="#111116"/><circle cx="155.8" cy="171.5" r="1.2" fill="#d81e34"/><circle cx="160.7" cy="170.7" r="1.2" fill="#d81e34"/><circle cx="177.7" cy="170.3" r="1.2" fill="#111116"/><circle cx="164.6" cy="174.9" r="1.2" fill="#2836d0"/><circle cx="168.5" cy="174.3" r="1.2" fill="#2836d0"/><circle cx="172.1" cy="174.8" r="1.2" fill="#2836d0"/><circle cx="179.3" cy="174.9" r="1.2" fill="#2836d0"/><circle cx="152.9" cy="178.2" r="1.2" fill="#111116"/><circle cx="176.4" cy="177.9" r="1.2" fill="#d81e34"/><circle cx="184.9" cy="154.7" r="1.2" fill="#2836d0"/><circle cx="189.5" cy="154.7" r="1.2" fill="#d81e34"/><circle cx="202.5" cy="154.3" r="1.2" fill="#2836d0"/><circle cx="210.1" cy="154.7" r="1.2" fill="#d81e34"/><circle cx="181.6" cy="157.3" r="1.2" fill="#d81e34"/><circle cx="199.0" cy="158.6" r="1.2" fill="#111116"/><circle cx="200.9" cy="156.9" r="1.2" fill="#2836d0"/><circle cx="202.5" cy="157.3" r="1.2" fill="#2836d0"/><circle cx="206.1" cy="158.6" r="1.2" fill="#111116"/><circle cx="209.4" cy="157.3" r="1.2" fill="#2836d0"/><circle cx="181.0" cy="160.2" r="1.2" fill="#111116"/><circle cx="185.2" cy="160.5" r="1.2" fill="#111116"/><circle cx="189.8" cy="160.5" r="1.2" fill="#d81e34"/><circle cx="193.4" cy="161.7" r="1.2" fill="#2836d0"/><circle cx="195.0" cy="161.8" r="1.2" fill="#2836d0"/><circle cx="198.0" cy="160.5" r="1.2" fill="#d81e34"/><circle cx="209.1" cy="161.8" r="1.2" fill="#d81e34"/><circle cx="188.5" cy="164.8" r="1.2" fill="#111116"/><circle cx="189.8" cy="164.5" r="1.2" fill="#111116"/><circle cx="210.4" cy="164.1" r="1.2" fill="#d81e34"/><circle cx="188.5" cy="168.4" r="1.2" fill="#d81e34"/><circle cx="189.8" cy="168.5" r="1.2" fill="#d81e34"/><circle cx="194.1" cy="167.7" r="1.2" fill="#d81e34"/><circle cx="197.6" cy="167.7" r="1.2" fill="#d81e34"/><circle cx="201.2" cy="167.1" r="1.2" fill="#2836d0"/><circle cx="206.8" cy="167.7" r="1.2" fill="#111116"/><circle cx="210.7" cy="168.1" r="1.2" fill="#111116"/><circle cx="197.6" cy="171.3" r="1.2" fill="#d81e34"/><circle cx="200.9" cy="171.5" r="1.2" fill="#d81e34"/><circle cx="202.2" cy="171.1" r="1.2" fill="#d81e34"/><circle cx="202.9" cy="171.0" r="1.2" fill="#d81e34"/><circle cx="206.8" cy="171.6" r="1.2" fill="#111116"/><circle cx="210.7" cy="172.0" r="1.2" fill="#111116"/><circle cx="181.0" cy="174.8" r="1.2" fill="#2836d0"/><circle cx="189.8" cy="174.8" r="1.2" fill="#2836d0"/><circle cx="193.1" cy="174.4" r="1.2" fill="#d81e34"/><circle cx="198.3" cy="173.3" r="1.2" fill="#d81e34"/><circle cx="201.6" cy="174.6" r="1.2" fill="#d81e34"/><circle cx="206.1" cy="174.9" r="1.2" fill="#2836d0"/><circle cx="210.1" cy="174.9" r="1.2" fill="#d81e34"/><circle cx="185.6" cy="177.2" r="1.2" fill="#d81e34"/><circle cx="185.9" cy="178.2" r="1.2" fill="#2836d0"/><circle cx="198.6" cy="178.2" r="1.2" fill="#111116"/><circle cx="205.5" cy="176.9" r="1.2" fill="#d81e34"/><circle cx="210.4" cy="177.2" r="1.2" fill="#d81e34"/><circle cx="181.0" cy="178.8" r="1.2" fill="#d81e34"/><circle cx="189.5" cy="178.8" r="1.2" fill="#d81e34"/><circle cx="206.3" cy="180.6" r="1.2" fill="#d81e34"/><circle cx="215.0" cy="154.7" r="1.2" fill="#2836d0"/><circle cx="228.1" cy="154.7" r="1.2" fill="#111116"/><circle cx="218.6" cy="157.3" r="1.2" fill="#d81e34"/><circle cx="222.2" cy="157.9" r="1.2" fill="#d81e34"/><circle cx="226.4" cy="157.3" r="1.2" fill="#d81e34"/><circle cx="231.0" cy="158.2" r="1.2" fill="#d81e34"/><circle cx="240.1" cy="157.6" r="1.2" fill="#2836d0"/><circle cx="218.2" cy="160.9" r="1.2" fill="#111116"/><circle cx="230.0" cy="161.8" r="1.2" fill="#111116"/><circle cx="238.8" cy="161.8" r="1.2" fill="#111116"/><circle cx="214.7" cy="164.5" r="1.2" fill="#d81e34"/><circle cx="218.6" cy="164.5" r="1.2" fill="#d81e34"/><circle cx="225.8" cy="164.1" r="1.2" fill="#111116"/><circle cx="239.2" cy="165.1" r="1.2" fill="#111116"/><circle cx="214.7" cy="167.1" r="1.2" fill="#2836d0"/><circle cx="218.2" cy="167.4" r="1.2" fill="#d81e34"/><circle cx="222.8" cy="167.4" r="1.2" fill="#2836d0"/><circle cx="238.8" cy="168.1" r="1.2" fill="#111116"/><circle cx="218.6" cy="171.0" r="1.2" fill="#111116"/><circle cx="222.2" cy="171.5" r="1.2" fill="#2836d0"/><circle cx="225.8" cy="170.9" r="1.2" fill="#2836d0"/><circle cx="227.1" cy="171.1" r="1.2" fill="#2836d0"/><circle cx="230.0" cy="170.3" r="1.2" fill="#111116"/><circle cx="238.8" cy="171.5" r="1.2" fill="#2836d0"/><circle cx="242.4" cy="170.3" r="1.2" fill="#111116"/><circle cx="219.2" cy="174.4" r="1.2" fill="#d81e34"/><circle cx="222.5" cy="174.8" r="1.2" fill="#2836d0"/><circle cx="238.8" cy="174.6" r="1.2" fill="#2836d0"/><circle cx="243.4" cy="174.6" r="1.2" fill="#111116"/><circle cx="214.7" cy="177.2" r="1.2" fill="#d81e34"/><circle cx="217.9" cy="178.7" r="1.2" fill="#111116"/><circle cx="221.8" cy="177.9" r="1.2" fill="#2836d0"/><circle cx="227.1" cy="177.5" r="1.2" fill="#d81e34"/><circle cx="239.0" cy="178.8" r="1.2" fill="#2836d0"/><circle cx="231.0" cy="180.1" r="1.2" fill="#d81e34"/><circle cx="119.2" cy="182.0" r="1.2" fill="#d81e34"/><circle cx="128.0" cy="181.3" r="1.2" fill="#d81e34"/><circle cx="131.0" cy="181.3" r="1.2" fill="#2836d0"/><circle cx="144.4" cy="181.7" r="1.2" fill="#d81e34"/><circle cx="127.4" cy="183.9" r="1.2" fill="#111116"/><circle cx="127.7" cy="185.6" r="1.2" fill="#111116"/><circle cx="135.5" cy="184.9" r="1.2" fill="#2836d0"/><circle cx="142.7" cy="184.6" r="1.2" fill="#d81e34"/><circle cx="112.3" cy="188.8" r="1.2" fill="#2836d0"/><circle cx="123.8" cy="187.2" r="1.2" fill="#111116"/><circle cx="126.7" cy="187.5" r="1.2" fill="#111116"/><circle cx="135.5" cy="187.5" r="1.2" fill="#111116"/><circle cx="143.7" cy="187.5" r="1.2" fill="#111116"/><circle cx="127.0" cy="190.8" r="1.2" fill="#111116"/><circle cx="131.9" cy="191.1" r="1.2" fill="#111116"/><circle cx="137.2" cy="190.8" r="1.2" fill="#d81e34"/><circle cx="138.8" cy="190.8" r="1.2" fill="#d81e34"/><circle cx="118.9" cy="191.8" r="1.2" fill="#111116"/><circle cx="122.1" cy="193.7" r="1.2" fill="#111116"/><circle cx="123.4" cy="194.7" r="1.2" fill="#111116"/><circle cx="127.4" cy="194.7" r="1.2" fill="#2836d0"/><circle cx="131.0" cy="194.4" r="1.2" fill="#111116"/><circle cx="139.5" cy="193.7" r="1.2" fill="#111116"/><circle cx="144.4" cy="195.7" r="1.2" fill="#111116"/><circle cx="143.4" cy="197.0" r="1.2" fill="#111116"/><circle cx="126.7" cy="198.0" r="1.2" fill="#d81e34"/><circle cx="130.6" cy="198.0" r="1.2" fill="#2836d0"/><circle cx="118.9" cy="200.6" r="1.2" fill="#2836d0"/><circle cx="130.3" cy="201.6" r="1.2" fill="#111116"/><circle cx="139.5" cy="200.3" r="1.2" fill="#111116"/><circle cx="144.0" cy="200.6" r="1.2" fill="#2836d0"/><circle cx="115.6" cy="204.5" r="1.2" fill="#111116"/><circle cx="119.5" cy="204.2" r="1.2" fill="#111116"/><circle cx="126.7" cy="204.2" r="1.2" fill="#2836d0"/><circle cx="131.0" cy="205.2" r="1.2" fill="#111116"/><circle cx="132.3" cy="203.9" r="1.2" fill="#111116"/><circle cx="136.2" cy="204.2" r="1.2" fill="#111116"/><circle cx="138.8" cy="204.2" r="1.2" fill="#111116"/><circle cx="140.4" cy="204.5" r="1.2" fill="#111116"/><circle cx="143.4" cy="204.9" r="1.2" fill="#2836d0"/><circle cx="144.4" cy="203.9" r="1.2" fill="#d81e34"/><circle cx="147.0" cy="184.3" r="1.2" fill="#d81e34"/><circle cx="148.9" cy="183.6" r="1.2" fill="#2836d0"/><circle cx="152.5" cy="183.9" r="1.2" fill="#d81e34"/><circle cx="156.5" cy="184.3" r="1.2" fill="#111116"/><circle cx="169.2" cy="185.1" r="1.2" fill="#2836d0"/><circle cx="171.8" cy="186.9" r="1.2" fill="#2836d0"/><circle cx="173.5" cy="188.2" r="1.2" fill="#2836d0"/><circle cx="176.2" cy="185.2" r="1.2" fill="#2836d0"/><circle cx="147.0" cy="187.2" r="1.2" fill="#2836d0"/><circle cx="156.8" cy="188.7" r="1.2" fill="#2836d0"/><circle cx="159.7" cy="187.2" r="1.2" fill="#2836d0"/><circle cx="152.9" cy="191.5" r="1.2" fill="#d81e34"/><circle cx="159.7" cy="194.1" r="1.2" fill="#2836d0"/><circle cx="176.4" cy="194.1" r="1.2" fill="#d81e34"/><circle cx="151.6" cy="204.2" r="1.2" fill="#2836d0"/><circle cx="159.7" cy="204.2" r="1.2" fill="#111116"/><circle cx="165.0" cy="204.2" r="1.2" fill="#d81e34"/><circle cx="167.9" cy="204.5" r="1.2" fill="#111116"/><circle cx="172.1" cy="203.9" r="1.2" fill="#2836d0"/><circle cx="176.7" cy="203.9" r="1.2" fill="#2836d0"/><circle cx="189.2" cy="181.7" r="1.2" fill="#d81e34"/><circle cx="193.7" cy="181.7" r="1.2" fill="#d81e34"/><circle cx="195.0" cy="183.6" r="1.2" fill="#d81e34"/><circle cx="197.3" cy="181.7" r="1.2" fill="#111116"/><circle cx="189.8" cy="184.3" r="1.2" fill="#111116"/><circle cx="198.3" cy="184.3" r="1.2" fill="#111116"/><circle cx="181.3" cy="188.2" r="1.2" fill="#2836d0"/><circle cx="185.6" cy="188.2" r="1.2" fill="#2836d0"/><circle cx="193.7" cy="186.9" r="1.2" fill="#111116"/><circle cx="197.0" cy="188.5" r="1.2" fill="#2836d0"/><circle cx="213.3" cy="187.5" r="1.2" fill="#111116"/><circle cx="185.9" cy="191.5" r="1.2" fill="#2836d0"/><circle cx="190.1" cy="191.5" r="1.2" fill="#d81e34"/><circle cx="193.7" cy="191.1" r="1.2" fill="#2836d0"/><circle cx="197.6" cy="190.8" r="1.2" fill="#111116"/><circle cx="202.2" cy="191.1" r="1.2" fill="#d81e34"/><circle cx="203.9" cy="191.1" r="1.2" fill="#d81e34"/><circle cx="206.8" cy="191.1" r="1.2" fill="#111116"/><circle cx="210.1" cy="191.3" r="1.2" fill="#d81e34"/><circle cx="213.0" cy="191.5" r="1.2" fill="#2836d0"/><circle cx="185.2" cy="194.7" r="1.2" fill="#2836d0"/><circle cx="190.5" cy="194.7" r="1.2" fill="#d81e34"/><circle cx="193.4" cy="195.1" r="1.2" fill="#d81e34"/><circle cx="196.7" cy="194.4" r="1.2" fill="#2836d0"/><circle cx="198.3" cy="193.7" r="1.2" fill="#2836d0"/><circle cx="202.5" cy="194.1" r="1.2" fill="#d81e34"/><circle cx="206.5" cy="194.7" r="1.2" fill="#111116"/><circle cx="194.7" cy="197.0" r="1.2" fill="#2836d0"/><circle cx="199.0" cy="197.3" r="1.2" fill="#2836d0"/><circle cx="189.8" cy="197.9" r="1.2" fill="#111116"/><circle cx="205.8" cy="198.1" r="1.2" fill="#111116"/><circle cx="197.6" cy="200.6" r="1.2" fill="#d81e34"/><circle cx="202.5" cy="201.6" r="1.2" fill="#d81e34"/><circle cx="190.1" cy="201.9" r="1.2" fill="#2836d0"/><circle cx="180.7" cy="204.2" r="1.2" fill="#d81e34"/><circle cx="185.9" cy="204.4" r="1.2" fill="#2836d0"/><circle cx="188.8" cy="203.5" r="1.2" fill="#111116"/><circle cx="193.7" cy="204.4" r="1.2" fill="#111116"/><circle cx="197.6" cy="204.2" r="1.2" fill="#111116"/><circle cx="201.2" cy="204.2" r="1.2" fill="#2836d0"/><circle cx="201.9" cy="205.2" r="1.2" fill="#2836d0"/><circle cx="206.1" cy="205.2" r="1.2" fill="#111116"/><circle cx="210.7" cy="203.5" r="1.2" fill="#2836d0"/><circle cx="215.0" cy="181.3" r="1.2" fill="#111116"/><circle cx="221.8" cy="181.7" r="1.2" fill="#d81e34"/><circle cx="227.1" cy="181.7" r="1.2" fill="#111116"/><circle cx="239.2" cy="181.3" r="1.2" fill="#2836d0"/><circle cx="214.7" cy="184.6" r="1.2" fill="#d81e34"/><circle cx="218.6" cy="184.3" r="1.2" fill="#2836d0"/><circle cx="223.2" cy="184.6" r="1.2" fill="#111116"/><circle cx="226.7" cy="183.9" r="1.2" fill="#d81e34"/><circle cx="230.3" cy="183.9" r="1.2" fill="#2836d0"/><circle cx="234.6" cy="184.3" r="1.2" fill="#2836d0"/><circle cx="239.2" cy="184.6" r="1.2" fill="#111116"/><circle cx="222.5" cy="187.5" r="1.2" fill="#111116"/><circle cx="235.6" cy="187.2" r="1.2" fill="#111116"/><circle cx="238.5" cy="187.5" r="1.2" fill="#2836d0"/><circle cx="239.8" cy="187.9" r="1.2" fill="#2836d0"/><circle cx="214.7" cy="190.5" r="1.2" fill="#2836d0"/><circle cx="218.6" cy="190.5" r="1.2" fill="#d81e34"/><circle cx="219.9" cy="191.3" r="1.2" fill="#d81e34"/><circle cx="223.5" cy="190.5" r="1.2" fill="#d81e34"/><circle cx="231.3" cy="191.1" r="1.2" fill="#2836d0"/><circle cx="239.8" cy="190.7" r="1.2" fill="#2836d0"/><circle cx="214.7" cy="194.7" r="1.2" fill="#d81e34"/><circle cx="230.9" cy="194.1" r="1.2" fill="#d81e34"/><circle cx="239.2" cy="194.7" r="1.2" fill="#d81e34"/><circle cx="227.7" cy="197.9" r="1.2" fill="#2836d0"/><circle cx="231.0" cy="198.1" r="1.2" fill="#d81e34"/><circle cx="235.2" cy="197.2" r="1.2" fill="#111116"/><circle cx="238.5" cy="198.1" r="1.2" fill="#2836d0"/><circle cx="214.7" cy="200.6" r="1.2" fill="#2836d0"/><circle cx="215.0" cy="204.4" r="1.2" fill="#2836d0"/><circle cx="218.6" cy="204.4" r="1.2" fill="#111116"/><circle cx="235.2" cy="203.9" r="1.2" fill="#d81e34"/><circle cx="238.2" cy="204.4" r="1.2" fill="#d81e34"/><circle cx="239.8" cy="204.4" r="1.2" fill="#d81e34"/><circle cx="239.3" cy="201.5" r="1.2" fill="#2836d0"/><circle cx="284.6" cy="70.6" r="1.45" fill="#eef028"/><circle cx="289.8" cy="69.9" r="1.45" fill="#eef028"/><circle cx="284.4" cy="74.5" r="1.45" fill="#eef028"/><circle cx="307.0" cy="84.3" r="1.45" fill="#eef028"/><circle cx="304.9" cy="88.2" r="1.45" fill="#eef028"/><circle cx="304.9" cy="90.6" r="1.45" fill="#eef028"/><circle cx="296.5" cy="94.8" r="1.45" fill="#eef028"/><circle cx="300.4" cy="96.9" r="1.45" fill="#eef028"/><circle cx="302.5" cy="97.6" r="1.45" fill="#eef028"/><circle cx="485.1" cy="91.0" r="1.5" fill="#eef070"/><circle cx="485.1" cy="143.7" r="1.5" fill="#eef070"/><circle cx="338.5" cy="164.1" r="1.45" fill="#eef028"/><circle cx="341.7" cy="167.3" r="1.45" fill="#eef028"/><circle cx="329.6" cy="170.5" r="1.45" fill="#eef028"/><circle cx="321.6" cy="171.3" r="1.45" fill="#eef028"/><circle cx="313.1" cy="174.0" r="1.45" fill="#eef028"/><circle cx="306.4" cy="173.7" r="1.45" fill="#eef028"/><circle cx="304.8" cy="176.1" r="1.45" fill="#eef028"/><circle cx="302.4" cy="177.4" r="1.45" fill="#eef028"/><circle cx="309.9" cy="180.1" r="1.45" fill="#eef028"/><circle cx="351.0" cy="184.1" r="1.5" fill="#eef070"/><circle cx="412.7" cy="156.8" r="1.45" fill="#eef028"/><circle cx="297.5" cy="73.8" r="1.3" fill="#d81e34"/><circle cx="301.4" cy="74.5" r="1.3" fill="#d81e34"/><circle cx="296.8" cy="77.6" r="1.3" fill="#111116"/><circle cx="306.0" cy="78.0" r="1.3" fill="#111116"/><circle cx="284.7" cy="83.4" r="1.3" fill="#5a0c22"/><circle cx="284.8" cy="85.4" r="1.3" fill="#5a0c22"/><circle cx="285.0" cy="87.4" r="1.3" fill="#5a0c22"/><circle cx="285.2" cy="89.4" r="1.3" fill="#111116"/><circle cx="285.0" cy="91.2" r="1.3" fill="#111116"/><circle cx="294.0" cy="83.8" r="1.3" fill="#111116"/><circle cx="298.2" cy="83.4" r="1.3" fill="#2836d0"/><circle cx="300.9" cy="85.2" r="1.3" fill="#2836d0"/><circle cx="304.6" cy="83.4" r="1.3" fill="#2836d0"/><circle cx="292.6" cy="91.3" r="1.3" fill="#111116"/><circle cx="289.7" cy="93.6" r="1.3" fill="#111116"/><circle cx="286.0" cy="95.0" r="1.3" fill="#111116"/><circle cx="367.4" cy="103.6" r="1.3" fill="#2836d0"/><circle cx="436.7" cy="126.8" r="1.3" fill="#d81e34"/><circle cx="374.8" cy="138.1" r="1.3" fill="#2836d0"/><circle cx="369.7" cy="143.7" r="1.3" fill="#111116"/><circle cx="368.1" cy="148.5" r="1.3" fill="#111116"/><circle cx="374.5" cy="151.3" r="1.3" fill="#d81e34"/><circle cx="380.3" cy="153.6" r="1.3" fill="#d81e34"/><circle cx="353.7" cy="154.0" r="1.3" fill="#111116"/><circle cx="359.6" cy="154.5" r="1.3" fill="#d81e34"/><circle cx="371.6" cy="157.2" r="1.3" fill="#111116"/><circle cx="333.3" cy="157.8" r="1.3" fill="#2836d0"/><circle cx="337.3" cy="157.7" r="1.3" fill="#2836d0"/><circle cx="342.5" cy="157.8" r="1.3" fill="#111116"/><circle cx="329.6" cy="160.4" r="1.3" fill="#2836d0"/><circle cx="330.4" cy="161.7" r="1.3" fill="#2836d0"/><circle cx="330.4" cy="164.0" r="1.3" fill="#2836d0"/><circle cx="334.0" cy="164.4" r="1.3" fill="#111116"/><circle cx="365.7" cy="164.6" r="1.3" fill="#d81e34"/><circle cx="367.8" cy="167.3" r="1.3" fill="#111116"/><circle cx="355.0" cy="188.1" r="1.3" fill="#d81e34"/><circle cx="399.2" cy="154.8" r="1.3" fill="#d81e34"/><circle cx="399.9" cy="153.8" r="1.3" fill="#2836d0"/><circle cx="382.6" cy="166.4" r="1.3" fill="#d81e34"/><circle cx="387.1" cy="167.7" r="1.3" fill="#d81e34"/><circle cx="395.8" cy="171.3" r="1.3" fill="#d81e34"/><circle cx="419.5" cy="176.7" r="1.3" fill="#d81e34"/><circle cx="419.5" cy="191.4" r="1.3" fill="#111116"/><circle cx="41.8" cy="413.5" r="1.45" fill="#eef028"/><circle cx="46.5" cy="416.8" r="1.45" fill="#eef028"/><circle cx="52.0" cy="416.8" r="1.45" fill="#eef028"/><circle cx="55.3" cy="416.8" r="1.45" fill="#eef028"/><circle cx="55.8" cy="420.7" r="1.45" fill="#eef028"/><circle cx="59.6" cy="423.2" r="1.45" fill="#eef028"/><circle cx="63.0" cy="423.2" r="1.45" fill="#eef028"/><circle cx="67.2" cy="419.4" r="1.45" fill="#eef028"/><circle cx="67.2" cy="423.2" r="1.45" fill="#eef028"/><circle cx="67.2" cy="425.7" r="1.45" fill="#eef028"/><circle cx="72.7" cy="423.2" r="1.45" fill="#eef028"/><circle cx="72.7" cy="425.3" r="1.45" fill="#eef028"/><circle cx="75.2" cy="430.0" r="1.45" fill="#eef028"/><circle cx="66.8" cy="427.0" r="1.45" fill="#eef028"/><circle cx="65.8" cy="426.2" r="1.45" fill="#eef028"/><circle cx="168.0" cy="346.5" r="1.5" fill="#eef070"/><circle cx="234.4" cy="337.3" r="1.5" fill="#eef070"/><circle cx="141.1" cy="376.4" r="1.5" fill="#eef070"/><circle cx="68.5" cy="360.0" r="1.3" fill="#111116"/><circle cx="64.6" cy="365.8" r="1.3" fill="#d81e34"/><circle cx="55.5" cy="366.9" r="1.3" fill="#111116"/><circle cx="50.8" cy="369.7" r="1.3" fill="#111116"/><circle cx="52.7" cy="369.3" r="1.3" fill="#111116"/><circle cx="54.7" cy="369.3" r="1.3" fill="#d81e34"/><circle cx="59.9" cy="368.9" r="1.3" fill="#111116"/><circle cx="59.9" cy="371.5" r="1.3" fill="#111116"/><circle cx="59.9" cy="373.2" r="1.3" fill="#111116"/><circle cx="52.1" cy="372.7" r="1.3" fill="#111116"/><circle cx="55.5" cy="373.2" r="1.3" fill="#111116"/><circle cx="47.3" cy="373.2" r="1.3" fill="#111116"/><circle cx="34.3" cy="373.4" r="1.3" fill="#d81e34"/><circle cx="39.1" cy="376.2" r="1.3" fill="#d81e34"/><circle cx="42.8" cy="376.2" r="1.3" fill="#d81e34"/><circle cx="46.9" cy="376.2" r="1.3" fill="#d81e34"/><circle cx="51.2" cy="376.2" r="1.3" fill="#111116"/><circle cx="55.1" cy="377.1" r="1.3" fill="#d81e34"/><circle cx="51.6" cy="378.0" r="1.3" fill="#111116"/><circle cx="50.8" cy="379.7" r="1.3" fill="#d81e34"/><circle cx="55.5" cy="380.1" r="1.3" fill="#d81e34"/><circle cx="56.0" cy="374.5" r="1.3" fill="#111116"/><circle cx="92.3" cy="290.0" r="1.3" fill="#2836d0"/><circle cx="115.9" cy="303.5" r="1.3" fill="#2836d0"/><circle cx="91.8" cy="306.9" r="1.3" fill="#2836d0"/><circle cx="100.3" cy="312.7" r="1.3" fill="#2836d0"/><circle cx="96.0" cy="317.1" r="1.3" fill="#2836d0"/><circle cx="100.5" cy="317.1" r="1.3" fill="#2836d0"/><circle cx="95.2" cy="319.3" r="1.3" fill="#2836d0"/><circle cx="100.5" cy="319.3" r="1.3" fill="#2836d0"/><circle cx="99.5" cy="323.1" r="1.3" fill="#2836d0"/><circle cx="96.8" cy="325.6" r="1.3" fill="#2836d0"/><circle cx="99.5" cy="326.3" r="1.3" fill="#2836d0"/><circle cx="96.0" cy="329.7" r="1.3" fill="#2836d0"/><circle cx="104.7" cy="330.2" r="1.3" fill="#2836d0"/><circle cx="109.0" cy="333.9" r="1.3" fill="#2836d0"/><circle cx="109.3" cy="335.6" r="1.3" fill="#2836d0"/><circle cx="109.3" cy="339.7" r="1.3" fill="#2836d0"/><circle cx="117.1" cy="343.4" r="1.3" fill="#2836d0"/><circle cx="290.3" cy="279.0" r="1.5" fill="#eef070"/><circle cx="289.5" cy="279.6" r="1.45" fill="#eef028"/><circle cx="291.0" cy="278.5" r="1.5" fill="#eef070"/><circle cx="286.3" cy="282.6" r="1.5" fill="#eef070"/><circle cx="285.5" cy="392.0" r="1.45" fill="#eef028"/><circle cx="285.5" cy="394.5" r="1.45" fill="#eef028"/><circle cx="285.5" cy="397.0" r="1.45" fill="#eef028"/><circle cx="285.5" cy="399.5" r="1.45" fill="#eef028"/><circle cx="294.2" cy="395.3" r="1.45" fill="#eef028"/><circle cx="301.5" cy="395.6" r="1.45" fill="#eef028"/><circle cx="302.5" cy="398.6" r="1.45" fill="#eef028"/><circle cx="464.6" cy="329.6" r="1.5" fill="#eef070"/><circle cx="453.7" cy="338.3" r="1.5" fill="#eef070"/><circle cx="478.0" cy="346.1" r="1.5" fill="#eef070"/><circle cx="363.6" cy="381.9" r="1.5" fill="#eef070"/><circle cx="400.1" cy="381.9" r="1.5" fill="#eef070"/><circle cx="416.6" cy="398.1" r="1.5" fill="#eef070"/><circle cx="399.2" cy="427.7" r="1.5" fill="#eef070"/><circle cx="334.7" cy="411.5" r="1.45" fill="#eef028"/><circle cx="330.0" cy="414.6" r="1.45" fill="#eef028"/><circle cx="285.8" cy="283.2" r="1.3" fill="#8a8a30"/><circle cx="285.4" cy="336.1" r="1.3" fill="#111116"/><circle cx="298.4" cy="340.0" r="1.3" fill="#111116"/><circle cx="301.6" cy="340.2" r="1.3" fill="#111116"/><circle cx="302.7" cy="341.4" r="1.3" fill="#111116"/><circle cx="304.9" cy="338.5" r="1.3" fill="#111116"/><circle cx="305.5" cy="339.7" r="1.3" fill="#111116"/><circle cx="293.4" cy="345.4" r="1.3" fill="#111116"/><circle cx="297.3" cy="345.2" r="1.3" fill="#111116"/><circle cx="294.3" cy="348.6" r="1.3" fill="#111116"/><circle cx="298.4" cy="352.3" r="1.3" fill="#111116"/><circle cx="314.6" cy="362.5" r="1.3" fill="#111116"/><circle cx="321.6" cy="362.7" r="1.3" fill="#111116"/><circle cx="301.8" cy="365.8" r="1.3" fill="#d81e34"/><circle cx="310.6" cy="366.5" r="1.3" fill="#d81e34"/><circle cx="314.1" cy="368.5" r="1.3" fill="#111116"/><circle cx="317.9" cy="369.0" r="1.3" fill="#111116"/><circle cx="321.6" cy="369.0" r="1.3" fill="#111116"/><circle cx="317.3" cy="371.0" r="1.3" fill="#111116"/><circle cx="318.6" cy="372.5" r="1.3" fill="#d81e34"/><circle cx="322.3" cy="373.0" r="1.3" fill="#111116"/><circle cx="286.5" cy="374.8" r="1.3" fill="#d81e34"/><circle cx="284.5" cy="378.2" r="1.3" fill="#d81e34"/><circle cx="287.0" cy="379.0" r="1.3" fill="#d81e34"/><circle cx="301.8" cy="378.5" r="1.3" fill="#d81e34"/><circle cx="318.9" cy="378.8" r="1.3" fill="#d81e34"/><circle cx="298.0" cy="381.2" r="1.3" fill="#111116"/><circle cx="286.0" cy="381.5" r="1.3" fill="#d81e34"/><circle cx="290.0" cy="381.8" r="1.3" fill="#d81e34"/><circle cx="293.8" cy="383.0" r="1.3" fill="#d81e34"/><circle cx="310.6" cy="382.0" r="1.3" fill="#d81e34"/><circle cx="309.6" cy="384.0" r="1.3" fill="#d81e34"/><circle cx="307.0" cy="385.9" r="1.3" fill="#d81e34"/><circle cx="284.5" cy="386.3" r="1.3" fill="#d81e34"/><circle cx="285.5" cy="388.6" r="1.3" fill="#d81e34"/><circle cx="286.0" cy="389.6" r="1.3" fill="#d81e34"/><circle cx="285.5" cy="404.6" r="1.3" fill="#111116"/><circle cx="347.5" cy="328.7" r="1.3" fill="#2836d0"/><circle cx="325.8" cy="332.2" r="1.3" fill="#2836d0"/><circle cx="333.2" cy="331.6" r="1.3" fill="#2836d0"/><circle cx="330.4" cy="333.6" r="1.3" fill="#2836d0"/><circle cx="330.0" cy="335.2" r="1.3" fill="#2836d0"/><circle cx="331.2" cy="336.0" r="1.3" fill="#2836d0"/><circle cx="334.3" cy="336.4" r="1.3" fill="#2836d0"/><circle cx="326.0" cy="335.9" r="1.3" fill="#2836d0"/><circle cx="347.3" cy="336.7" r="1.3" fill="#2836d0"/><circle cx="325.8" cy="339.2" r="1.3" fill="#2836d0"/><circle cx="342.8" cy="339.2" r="1.3" fill="#2836d0"/><circle cx="338.8" cy="341.5" r="1.3" fill="#2836d0"/><circle cx="341.6" cy="342.4" r="1.3" fill="#2836d0"/><circle cx="330.3" cy="343.4" r="1.3" fill="#2836d0"/><circle cx="325.8" cy="349.8" r="1.3" fill="#2836d0"/><circle cx="333.9" cy="349.7" r="1.3" fill="#2836d0"/><circle cx="329.5" cy="356.5" r="1.3" fill="#2836d0"/></g><rect x="28.5" y="34.5" width="218.0" height="175.5" fill="none" stroke="#555" stroke-width="1.1"/><text x="26.7" y="206.9" class="t" text-anchor="end">0</text><text x="35.5" y="218.3" class="t" text-anchor="middle">0</text><text x="26.7" y="174.0" class="t" text-anchor="end">10</text><text x="77.3" y="218.3" class="t" text-anchor="middle">10</text><text x="26.7" y="140.8" class="t" text-anchor="end">20</text><text x="119.3" y="218.3" class="t" text-anchor="middle">20</text><text x="26.7" y="107.5" class="t" text-anchor="end">30</text><text x="160.4" y="218.3" class="t" text-anchor="middle">30</text><text x="26.7" y="74.4" class="t" text-anchor="end">40</text><text x="201.8" y="218.3" class="t" text-anchor="middle">40</text><text x="26.7" y="41.7" class="t" text-anchor="end">50</text><text x="243.0" y="218.3" class="t" text-anchor="middle">50</text><text x="18.4" y="27.6" class="L">A</text><text x="147.6" y="23.7" class="T" text-anchor="middle">DMSO control</text><text x="134.8" y="226.5" class="X" text-anchor="middle">SOM clustering (x value)</text><text transform="translate(14.8,125.1) rotate(-90)" x="0" y="0" class="X" text-anchor="middle">SOM clustering (y value)</text><rect x="277.5" y="33.5" width="215.0" height="176.6" fill="none" stroke="#555" stroke-width="1.1"/><text x="275.8" y="206.7" class="t" text-anchor="end">0</text><text x="285.1" y="218.20000000000002" class="t" text-anchor="middle">0</text><text x="275.8" y="173.5" class="t" text-anchor="end">10</text><text x="326.2" y="218.20000000000002" class="t" text-anchor="middle">10</text><text x="275.8" y="140.3" class="t" text-anchor="end">20</text><text x="367.3" y="218.20000000000002" class="t" text-anchor="middle">20</text><text x="275.8" y="107.2" class="t" text-anchor="end">30</text><text x="408.3" y="218.20000000000002" class="t" text-anchor="middle">30</text><text x="275.8" y="74.0" class="t" text-anchor="end">40</text><text x="448.4" y="218.20000000000002" class="t" text-anchor="middle">40</text><text x="275.8" y="41.2" class="t" text-anchor="end">50</text><text x="489.3" y="218.20000000000002" class="t" text-anchor="middle">50</text><text x="268.0" y="27.6" class="L">B</text><text x="379.3" y="23.7" class="T" text-anchor="middle">Epothilone B</text><text x="385.0" y="226.5" class="X" text-anchor="middle">SOM clustering (x value)</text><rect x="27.5" y="259.5" width="213.3" height="176.2" fill="none" stroke="#555" stroke-width="1.1"/><text x="25.7" y="432.5" class="t" text-anchor="end">0</text><text x="35.0" y="442.6" class="t" text-anchor="middle">0</text><text x="25.7" y="399.3" class="t" text-anchor="end">10</text><text x="75.4" y="442.6" class="t" text-anchor="middle">10</text><text x="25.7" y="366.0" class="t" text-anchor="end">20</text><text x="116.5" y="442.6" class="t" text-anchor="middle">20</text><text x="25.7" y="332.8" class="t" text-anchor="end">30</text><text x="157.5" y="442.6" class="t" text-anchor="middle">30</text><text x="25.7" y="299.3" class="t" text-anchor="end">40</text><text x="199.0" y="442.6" class="t" text-anchor="middle">40</text><text x="25.7" y="266.1" class="t" text-anchor="end">50</text><text x="240.8" y="442.6" class="t" text-anchor="middle">50</text><text x="9.0" y="256.5" class="L">C</text><text x="134.3" y="252.2" class="T" text-anchor="middle">Demecoline</text><text x="134.0" y="450.6" class="X" text-anchor="middle">SOM clustering (x value)</text><text transform="translate(14.8,353.8) rotate(-90)" x="0" y="0" class="X" text-anchor="middle">SOM clustering (y value)</text><rect x="278.5" y="259.5" width="214.0" height="175.0" fill="none" stroke="#555" stroke-width="1.1"/><text x="275.9" y="431.5" class="t" text-anchor="end">0</text><text x="285.6" y="442.6" class="t" text-anchor="middle">0</text><text x="275.9" y="398.5" class="t" text-anchor="end">10</text><text x="326.0" y="442.6" class="t" text-anchor="middle">10</text><text x="275.9" y="365.4" class="t" text-anchor="end">20</text><text x="366.8" y="442.6" class="t" text-anchor="middle">20</text><text x="275.9" y="332.3" class="t" text-anchor="end">30</text><text x="407.5" y="442.6" class="t" text-anchor="middle">30</text><text x="275.9" y="299.1" class="t" text-anchor="end">40</text><text x="448.0" y="442.6" class="t" text-anchor="middle">40</text><text x="275.9" y="266.2" class="t" text-anchor="end">50</text><text x="488.8" y="442.6" class="t" text-anchor="middle">50</text><text x="259.0" y="256.2" class="L">D</text><text x="381.6" y="252.2" class="T" text-anchor="middle">Emetine</text><text x="385.5" y="450.6" class="X" text-anchor="middle">SOM clustering (x value)</text><text transform="translate(265.3,353.8) rotate(-90)" x="0" y="0" class="X" text-anchor="middle">SOM clustering (y value)</text><rect x="376.5" y="458" width="8.5" height="7.2" fill="#e8141e"/><rect x="425.5" y="458" width="8.5" height="7.2" fill="#2a3cf0"/><rect x="376.5" y="469.8" width="8.5" height="7.4" fill="#f0f010"/><rect x="425.5" y="469.6" width="8.5" height="7.2" fill="#0a0a0a"/><text x="388" y="464.8" class="G">MCF-wt</text><text x="437" y="464.8" class="G">MiaPaCa2</text><text x="388" y="476.3" class="G">Ovcar3</text><text x="437" y="476.3" class="G">MCF-p53mut</text><rect x="0.5" y="0.5" width="518.5" height="497.5" fill="none" stroke="#585858" stroke-width="1"/><line x1="519.5" y1="0" x2="519.5" y2="499" stroke="#585858" stroke-width="1"/><line x1="0" y1="498.5" x2="520" y2="498.5" stroke="#585858" stroke-width="1"/></svg></body></html>
